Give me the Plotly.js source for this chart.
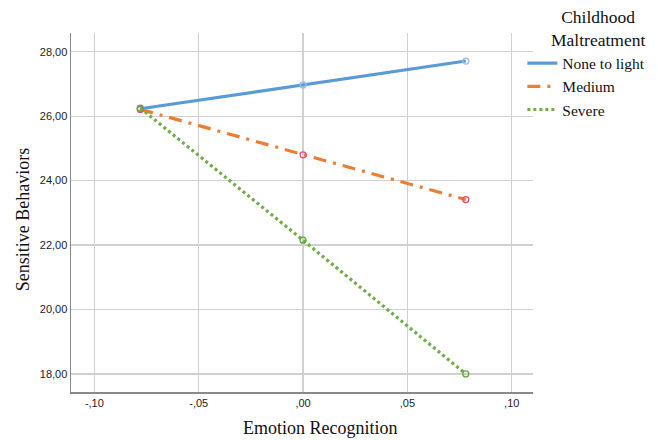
<!DOCTYPE html>
<html>
<head>
<meta charset="utf-8">
<script src="https://cdn.plot.ly/plotly-3.0.1.min.js"></script>
<style>html,body{margin:0;padding:0;background:#fff;}#chart{width:658px;height:440px;}</style>
</head>
<body>
<div id="chart"></div>
<script>
const xVals = [-0.078, 0, 0.078];
const noneToLight = [26.23, 26.97, 27.71];
const medium = [26.21, 24.8, 23.41];
const severe = [26.25, 22.15, 18.0];
const seriesNames = ["None to light", "Medium", "Severe"];
const legendTitle = "Childhood<br>Maltreatment";
const xTickVals = [-0.10, -0.05, 0, 0.05, 0.10];
const xTickText = ["-,10", "-,05", ",00", ",05", ",10"];
const yTickVals = [18, 20, 22, 24, 26, 28];
const yTickText = ["18,00", "20,00", "22,00", "24,00", "26,00", "28,00"];

const lineColors = ["#5b9bd5", "#ed7d31", "#70ad47"];
const markerColors = ["#9dbfe8", "#e2507a", "#5ea83f"];
const dashes = ["solid", "13px,7px,3px,7px", "3px,3px"];
const series = [noneToLight, medium, severe];
const serif = "Liberation Serif, Times New Roman, serif";

const traces = [];
series.forEach((ys, i) => {
  traces.push({
    x: xVals, y: ys, type: "scatter", mode: "lines", name: seriesNames[i],
    line: {color: lineColors[i], width: 3.2, dash: dashes[i]}
  });
});
series.forEach((ys, i) => {
  traces.push({
    x: xVals, y: ys, type: "scatter", mode: "markers", showlegend: false, hoverinfo: "skip",
    marker: {symbol: "circle-open", size: 6, color: markerColors[i], line: {width: 1.3, color: markerColors[i]}}
  });
});

const layout = {
  width: 658, height: 440,
  margin: {l: 71, r: 125, t: 33, b: 48, autoexpand: false},
  paper_bgcolor: "#fff", plot_bgcolor: "#fff",
  showlegend: true,
  legend: {
    x: 0.977, xanchor: "left", y: 0.962, yanchor: "top",
    font: {family: serif, size: 15.5, color: "#111"},
    itemwidth: 30, tracegroupgap: 0, bgcolor: "rgba(0,0,0,0)"
  },
  xaxis: {
    range: [-0.1112, 0.1102], tickvals: xTickVals, ticktext: xTickText,
    showgrid: true, gridcolor: "#d0d0d0", gridwidth: 1.2, zeroline: false,
    showline: true, linecolor: "#8a8a8a", linewidth: 1.5, ticks: "",
    tickfont: {family: "Liberation Sans, Arial, sans-serif", size: 11, color: "#222"},
    fixedrange: true
  },
  yaxis: {
    range: [17.44, 28.58], tickvals: yTickVals, ticktext: yTickText,
    showgrid: true, gridcolor: "#d0d0d0", gridwidth: 1.2, zeroline: false,
    showline: true, linecolor: "#8a8a8a", linewidth: 1.5, ticks: "",
    tickfont: {family: "Liberation Sans, Arial, sans-serif", size: 11, color: "#222"},
    fixedrange: true
  },
  annotations: [
    {text: legendTitle, xref: "paper", yref: "paper", x: 1.141, y: 1.012,
     xanchor: "center", yanchor: "middle", align: "center", showarrow: false,
     font: {family: serif, size: 17.5, color: "#111"}},
    {text: "Emotion Recognition", xref: "paper", yref: "paper", x: 0.54, y: -0.1,
     xanchor: "center", yanchor: "middle", showarrow: false,
     font: {family: serif, size: 18, color: "#111"}},
    {text: "Sensitive Behaviors", xref: "paper", yref: "paper", x: -0.105, y: 0.48,
     xanchor: "center", yanchor: "middle", showarrow: false, textangle: -90,
     font: {family: serif, size: 18, color: "#111"}}
  ]
};

Plotly.newPlot("chart", traces, layout, {displayModeBar: false, staticPlot: true});
</script>
</body>
</html>
